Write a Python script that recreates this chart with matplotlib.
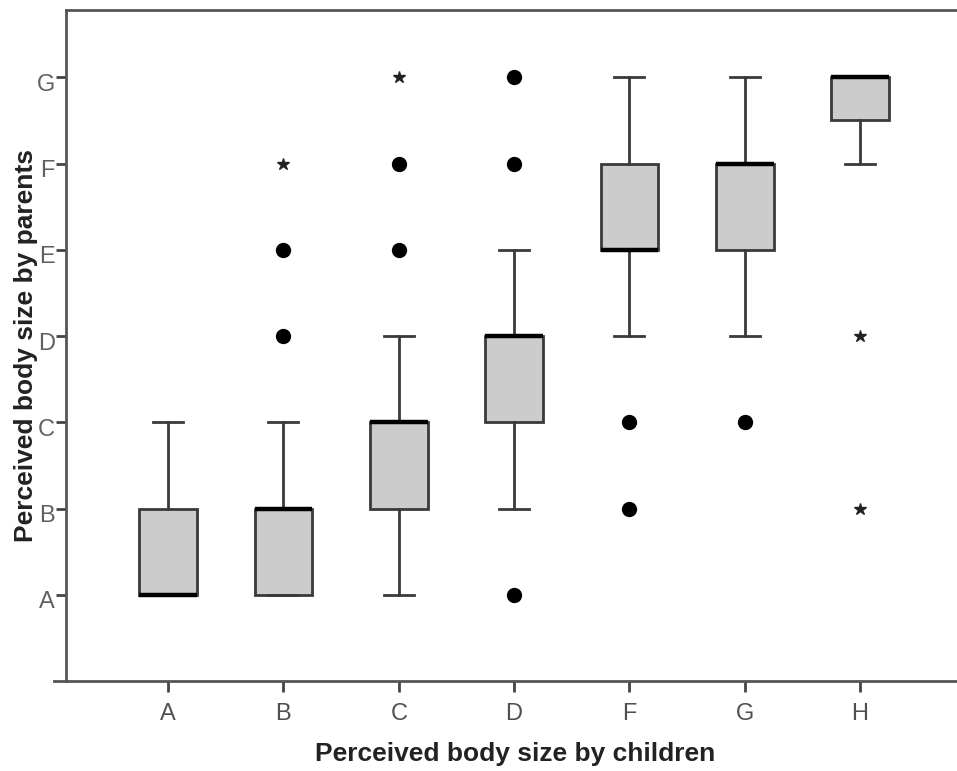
import matplotlib.pyplot as plt
import matplotlib.transforms as mtransforms
from matplotlib.lines import Line2D

plt.rcParams['font.family'] = ['Liberation Sans', 'DejaVu Sans']

# ---------------------------------------------------------------- data
children = ['A', 'B', 'C', 'D', 'F', 'G', 'H']
parent_levels = ['A', 'B', 'C', 'D', 'E', 'F', 'G']   # coded 1..7

q1 = [1, 1, 2, 3, 5, 5, 6.5]
med = [1, 2, 3, 4, 5, 6, 7]
q3 = [2, 2, 3, 4, 6, 6, 7]
whis_lo = [1, 1, 1, 2, 4, 4, 6]
whis_hi = [3, 3, 4, 5, 7, 7, 7]

# outliers (circles) and extremes (stars): (group index, value)
outliers = [(1, 4), (1, 5), (2, 5), (2, 6), (3, 6), (3, 7), (3, 1),
            (4, 3), (4, 2), (5, 3)]
extremes = [(1, 6), (2, 7), (6, 4), (6, 2)]

# ---------------------------------------------------------------- plot
fig = plt.figure(figsize=(9.57, 7.71), dpi=100)
ax = fig.add_axes([66 / 957, 1 - 681 / 771, 1 - 66 / 957, (681 - 10) / 771])

stats = []
for i in range(len(children)):
    stats.append({'med': med[i], 'q1': q1[i], 'q3': q3[i],
                  'whislo': whis_lo[i], 'whishi': whis_hi[i], 'fliers': []})

pos = list(range(1, len(children) + 1))
ax.bxp(stats, positions=pos, widths=0.5, capwidths=0.26, patch_artist=True,
       showfliers=False,
       boxprops=dict(facecolor='#cccccc', edgecolor='#3a3a3a', linewidth=2),
       medianprops=dict(color='black', linewidth=3.2, solid_capstyle='butt'),
       whiskerprops=dict(color='#3a3a3a', linewidth=2),
       capprops=dict(color='#3a3a3a', linewidth=2))

ax.plot([pos[g] for g, v in outliers], [v for g, v in outliers], 'o',
        color='black', markersize=10, linestyle='none')
ax.plot([pos[g] for g, v in extremes], [v for g, v in extremes], '*',
        color='#222222', markersize=9, linestyle='none')

ax.set_xlim(0.115, 7.84)
ax.set_ylim(0, 7.78)
ax.set_xticks(pos)
ax.set_xticklabels(children)
ax.set_yticks(range(1, len(parent_levels) + 1))
ax.set_yticklabels(parent_levels)

ax.spines['right'].set_visible(False)
for s in ['left', 'bottom', 'top']:
    ax.spines[s].set_color('#555555')
    ax.spines[s].set_linewidth(2)

ax.tick_params(axis='x', length=8, width=2, color='#444444', labelsize=17,
               labelcolor='#505050', pad=8)
ax.tick_params(axis='y', length=7, width=2, color='#444444', labelsize=17,
               labelcolor='#606060', pad=1)
# y tick labels sit a little below their ticks in the original
shift = mtransforms.ScaledTranslation(0, -5 / 100, fig.dpi_scale_trans)
for t in ax.get_yticklabels():
    t.set_transform(t.get_transform() + shift)

# small stub of the x axis line left of the y axis
ax.add_line(Line2D([-0.013, 0], [0, 0], transform=ax.transAxes, clip_on=False,
                   color='#555555', linewidth=2))

ax.set_xlabel('Perceived body size by children', fontsize=19, fontweight='bold',
              color='#222222')
ax.set_ylabel('Perceived body size by parents', fontsize=19, fontweight='bold',
              color='#222222')
ax.xaxis.set_label_coords((515 - 66) / 891, -(742 - 681) / 671)
ax.yaxis.set_label_coords(-(66 - 38) / 891, 0.5)

fig.savefig('out.png', dpi=100)
